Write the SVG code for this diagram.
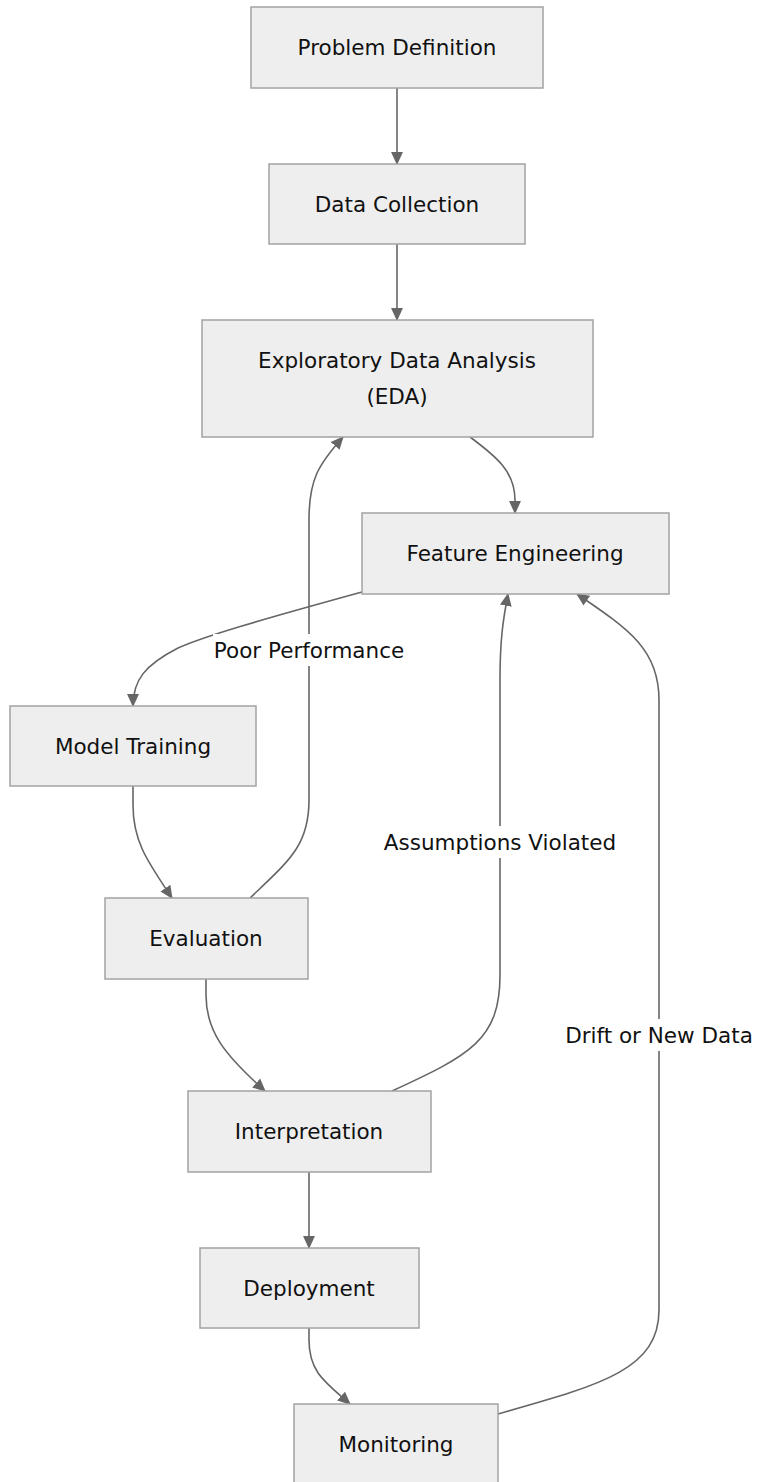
<svg xmlns="http://www.w3.org/2000/svg" width="760" height="1482" viewBox="0 0 760 1482">
<defs>
<marker id="arrow" viewBox="0 0 12 12" refX="11" refY="6" markerWidth="13" markerHeight="13" markerUnits="userSpaceOnUse" orient="auto">
<path d="M0,0.5 L12,6 L0,11.5 Z" fill="#666666"/>
</marker>
<style>
.node rect{fill:#eeeeee;stroke:#a3a3a3;stroke-width:1.5}
.node text,.lbl text{font-family:"DejaVu Sans",sans-serif;font-size:21.5px;fill:#111111;text-anchor:middle;dominant-baseline:central}
.edge{fill:none;stroke:#666666;stroke-width:1.6;marker-end:url(#arrow)}
.lbl rect{fill:#ffffff}
</style>
</defs>
<rect width="760" height="1482" fill="#ffffff"/>
<g id="connectors">
<path class="edge" d="M397,88 L397,164"/>
<path class="edge" d="M397,244 L397,320"/>
<path class="edge" d="M470,437 C497,457 515,472 515,500 L515,513"/>
<path class="edge" d="M362,592 C260,620 205,636 178,648 C145,665 133,680 133,706"/>
<path class="edge" d="M133,786 L133,805 C133,842 148,862 172,898"/>
<path class="edge" d="M250,898 C290,860 309,845 309,800 L309,520 C309,480 318,465 343,437"/>
<path class="edge" d="M206,979 L206,995 C206,1032 225,1055 265,1091"/>
<path class="edge" d="M392,1091 C470,1055 500,1040 500,975 L500,680 C500,640 503,620 508,594"/>
<path class="edge" d="M309,1172 L309,1248"/>
<path class="edge" d="M309,1328 L309,1340 C309,1372 325,1382 350,1404"/>
<path class="edge" d="M498,1414 C600,1385 659,1370 659,1310 L659,700 C659,650 630,630 577,594"/>
</g>
<g id="edge-labels">
<g class="lbl" id="label-poor"><rect x="213" y="634" width="192" height="32"/><text x="309" y="650">Poor Performance</text></g>
<g class="lbl" id="label-assump"><rect x="386" y="826" width="229" height="32"/><text x="500" y="842">Assumptions Violated</text></g>
<g class="lbl" id="label-drift"><rect x="565" y="1019" width="190" height="32"/><text x="659" y="1035">Drift or New Data</text></g>
</g>
<g class="node" id="node-problem"><rect x="251" y="7" width="292" height="81"/><text x="397" y="47">Problem Definition</text></g>
<g class="node" id="node-data"><rect x="269" y="164" width="256" height="80"/><text x="397" y="204">Data Collection</text></g>
<g class="node" id="node-eda"><rect x="202" y="320" width="391" height="117"/><text x="397" y="360">Exploratory Data Analysis</text><text x="397" y="396">(EDA)</text></g>
<g class="node" id="node-feature"><rect x="362" y="513" width="307" height="81"/><text x="515" y="553">Feature Engineering</text></g>
<g class="node" id="node-model"><rect x="10" y="706" width="246" height="80"/><text x="133" y="746">Model Training</text></g>
<g class="node" id="node-eval"><rect x="105" y="898" width="203" height="81"/><text x="206" y="938">Evaluation</text></g>
<g class="node" id="node-interp"><rect x="188" y="1091" width="243" height="81"/><text x="309" y="1131">Interpretation</text></g>
<g class="node" id="node-deploy"><rect x="200" y="1248" width="219" height="80"/><text x="309" y="1288">Deployment</text></g>
<g class="node" id="node-monitor"><rect x="294" y="1404" width="204" height="81"/><text x="396" y="1444">Monitoring</text></g>
</svg>
